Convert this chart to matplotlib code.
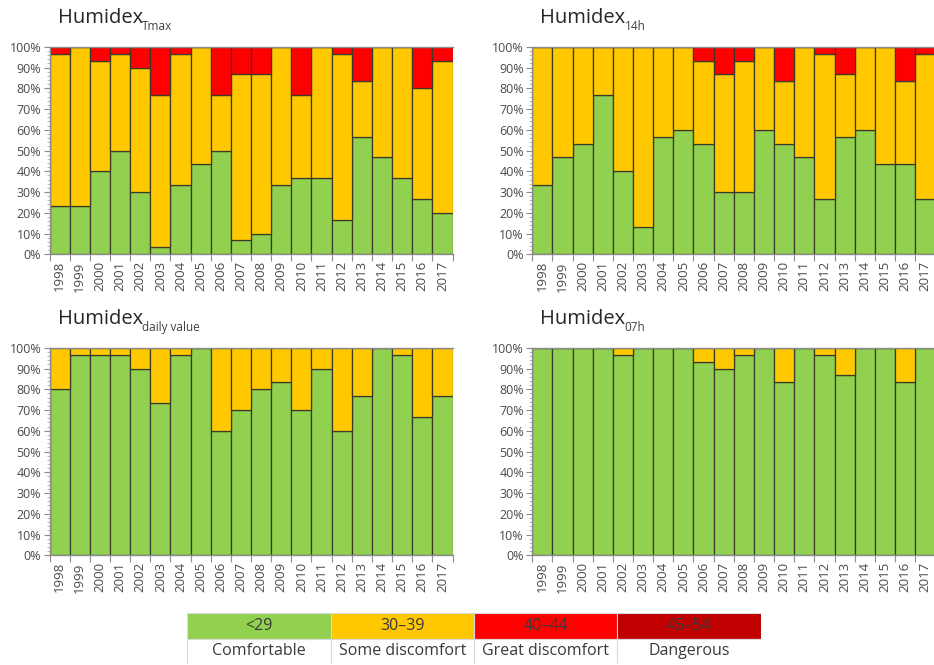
import numpy as np
import matplotlib
matplotlib.use('Agg')
import matplotlib.pyplot as plt
from matplotlib.patches import Rectangle
from matplotlib.ticker import MultipleLocator, FixedLocator, NullFormatter

plt.rcParams['font.family'] = ['Open Sans', 'DejaVu Sans']

years = [str(y) for y in range(1998, 2018)]

# share of days (%) in each humidex class
tmax_green  = [23.3, 23.3, 40, 50, 30, 3.3, 33.3, 43.3, 50, 6.7, 10, 33.3, 36.7, 36.7, 16.7, 56.7, 46.7, 36.7, 26.7, 20]
tmax_yellow = [73.4, 76.7, 53.3, 46.7, 60, 73.4, 63.4, 56.7, 26.7, 80, 76.7, 66.7, 40, 63.3, 80, 26.6, 53.3, 63.3, 53.3, 73.3]
tmax_red    = [3.3, 0, 6.7, 3.3, 10, 23.3, 3.3, 0, 23.3, 13.3, 13.3, 0, 23.3, 0, 3.3, 16.7, 0, 0, 20, 6.7]

h14_green  = [33.3, 46.7, 53.3, 76.7, 40, 13.3, 56.7, 60, 53.3, 30, 30, 60, 53.3, 46.7, 26.7, 56.7, 60, 43.3, 43.3, 26.7]
h14_yellow = [66.7, 53.3, 46.7, 23.3, 60, 86.7, 43.3, 40, 40, 56.7, 63.3, 40, 30, 53.3, 70, 30, 40, 56.7, 40, 70]
h14_red    = [0, 0, 0, 0, 0, 0, 0, 0, 6.7, 13.3, 6.7, 0, 16.7, 0, 3.3, 13.3, 0, 0, 16.7, 3.3]

daily_green  = [80, 96.7, 96.7, 96.7, 90, 73.3, 96.7, 100, 60, 70, 80, 83.3, 70, 90, 60, 76.7, 100, 96.7, 66.7, 76.7]
daily_yellow = [20, 3.3, 3.3, 3.3, 10, 26.7, 3.3, 0, 40, 30, 20, 16.7, 30, 10, 40, 23.3, 0, 3.3, 33.3, 23.3]

h07_green  = [100, 100, 100, 100, 96.7, 100, 100, 100, 93.3, 90, 96.7, 100, 83.3, 100, 96.7, 86.7, 100, 100, 83.3, 100]
h07_yellow = [0, 0, 0, 0, 3.3, 0, 0, 0, 6.7, 10, 3.3, 0, 16.7, 0, 3.3, 13.3, 0, 0, 16.7, 0]

class_ranges = ['<29', '30\u201339', '40\u201344', '45\u201354']
class_names = ['Comfortable', 'Some discomfort', 'Great discomfort', 'Dangerous']
colors = ['#92D050', '#FFC800', '#FF0000', '#C00000']

grey = '#8c8c8c'
txt = '#4a4a4a'

fig = plt.figure(figsize=(9.34, 6.65), dpi=100)

W = 403 / 934
H = 207.5 / 665
panels = [
    ([0.053, 0.6176, W, H], 'Tmax', [tmax_green, tmax_yellow, tmax_red]),
    ([0.5699, 0.6176, W, H], '14h', [h14_green, h14_yellow, h14_red]),
    ([0.053, 0.165, W, H], 'daily value', [daily_green, daily_yellow]),
    ([0.5699, 0.165, W, H], '07h', [h07_green, h07_yellow]),
]

x = np.arange(len(years))
for rect, sub, series in panels:
    ax = fig.add_axes(rect)
    bottom = np.zeros(len(years))
    for vals, c in zip(series, colors):
        ax.bar(x, vals, width=1.0, bottom=bottom, color=c,
               edgecolor='#3a3a2a', linewidth=0.9)
        bottom += np.array(vals)
    ax.set_xlim(-0.5, len(years) - 0.5)
    ax.set_ylim(0, 100)

    ax.yaxis.set_major_locator(MultipleLocator(10))
    ax.yaxis.set_minor_locator(MultipleLocator(2))
    ax.set_yticklabels([f'{int(v)}%' for v in ax.get_yticks()])
    ax.tick_params(axis='y', which='major', length=4, color=grey,
                   labelsize=9, labelcolor=txt, pad=2)
    ax.tick_params(axis='y', which='minor', length=2.5, color='#b0b0b0')

    ax.xaxis.set_major_locator(FixedLocator(np.arange(len(years) + 1) - 0.5))
    ax.xaxis.set_major_formatter(NullFormatter())
    ax.xaxis.set_minor_locator(FixedLocator(x))
    ax.set_xticklabels(years, minor=True, rotation=90)
    ax.tick_params(axis='x', which='major', length=5, color=grey)
    ax.tick_params(axis='x', which='minor', length=0, labelsize=9.5,
                   labelcolor=txt, pad=5)

    for s in ['left', 'bottom', 'top']:
        ax.spines[s].set_color(grey)
        ax.spines[s].set_linewidth(1.0)
    ax.spines['right'].set_visible(False)

    # title with subscript
    t = fig.text(rect[0] + 8 / 934, rect[1] + rect[3] + 24 / 665, 'Humidex',
                 fontsize=14.5, color='#262626', va='baseline', ha='left')
    fig.canvas.draw()
    bb = t.get_window_extent()
    fig.text((bb.x1 - 1) / 934, rect[1] + rect[3] + 17 / 665, sub,
             fontsize=8.5, color='#404040', va='baseline', ha='left')

# legend table
lax = fig.add_axes([187 / 934, 1 / 665, 574 / 934, 51 / 665])
lax.set_xlim(0, 4)
lax.set_ylim(0, 2)
lax.axis('off')
for i in range(4):
    lax.add_patch(Rectangle((i, 1), 1, 1, facecolor=colors[i], edgecolor='#d9d9d9', lw=0.8))
    lax.add_patch(Rectangle((i, 0), 1, 1, facecolor='white', edgecolor='#d9d9d9', lw=0.8))
    lax.text(i + 0.5, 1.5, class_ranges[i], ha='center', va='center',
             fontsize=11.5, color='#3a3a3a')
    lax.text(i + 0.5, 0.5, class_names[i], ha='center', va='center',
             fontsize=11.5, color='#3a3a3a')

fig.savefig('out.png', dpi=100)
